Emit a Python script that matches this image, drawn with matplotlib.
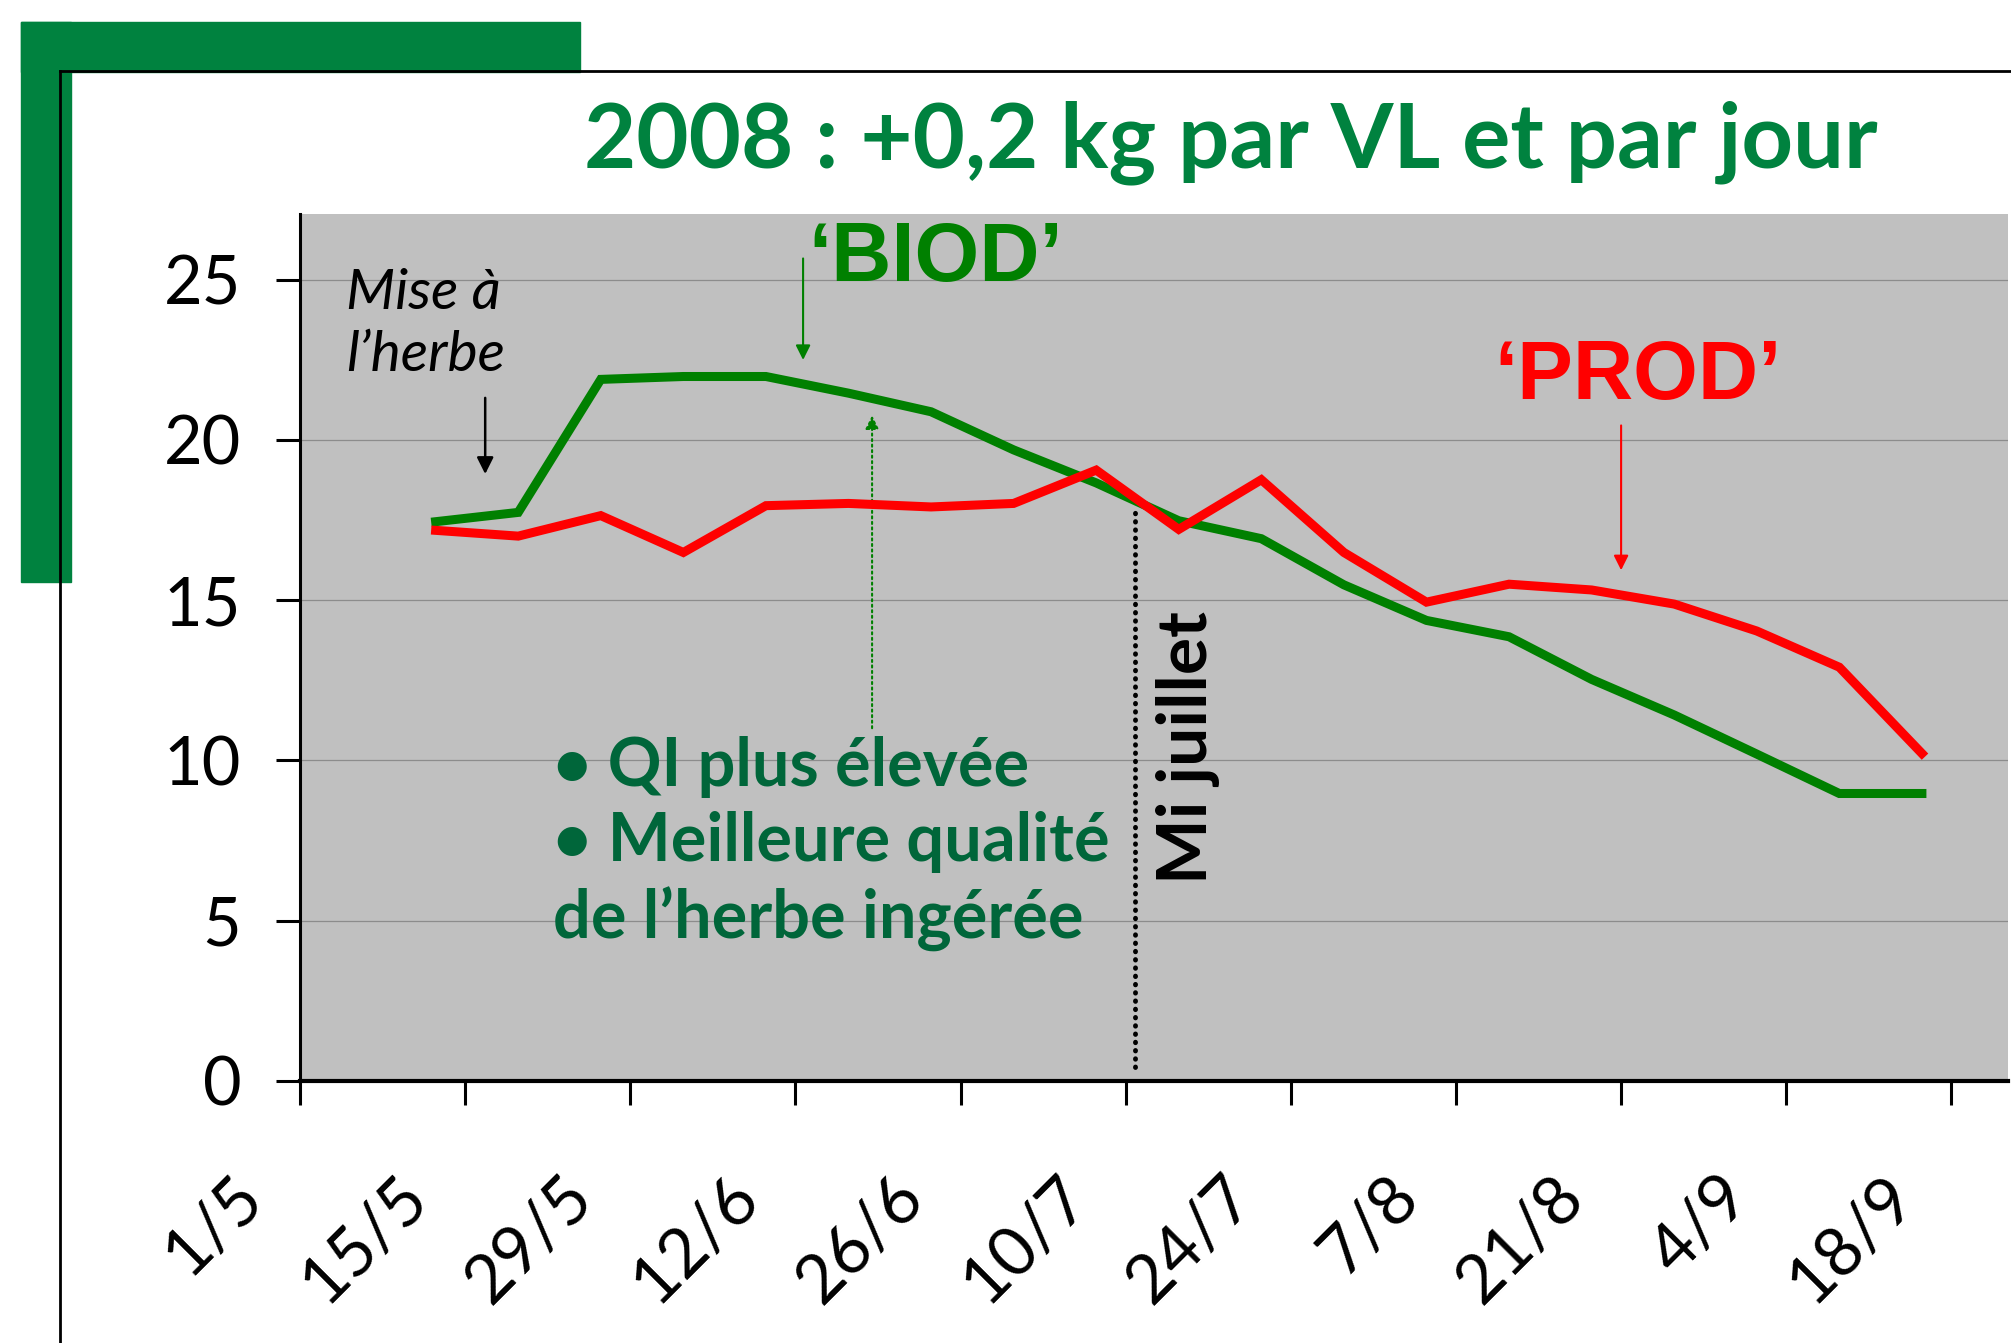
import numpy as np
import pandas as pd
import matplotlib
matplotlib.use("Agg")
import matplotlib.pyplot as plt
from matplotlib.patches import Rectangle
from matplotlib.lines import Line2D
from matplotlib.transforms import ScaledTranslation

# weekly measurements (kg per cow per day), 2008
dates = ["12/5", "19/5", "26/5", "2/6", "9/6", "16/6", "23/6", "30/6", "7/7", "14/7",
         "21/7", "28/7", "4/8", "11/8", "18/8", "25/8", "1/9", "8/9", "15/9"]
biod = [17.45, 17.74, 21.89, 21.98, 21.98, 21.46, 20.88, 19.69, 18.66, 17.48,
        16.92, 15.48, 14.37, 13.86, 12.53, 11.42, 10.20, 8.97, 8.97]
prod = [17.18, 17.00, 17.64, 16.49, 17.95, 18.02, 17.91, 18.02, 19.06, 17.21,
        18.76, 16.49, 14.94, 15.50, 15.32, 14.88, 14.04, 12.91, 10.22]
tick_dates = ["1/5", "15/5", "29/5", "12/6", "26/6", "10/7", "24/7", "7/8", "21/8", "4/9", "18/9"]
y_ticks = [0, 5, 10, 15, 20, 25]

start = pd.Timestamp("2008-05-01")
def to_day(lst):
    d = pd.to_datetime([s + "/2008" for s in lst], format="%d/%m/%Y")
    return np.array((d - start).days, dtype=float)

x = to_day(dates) + 0.5
xt = to_day(tick_dates)

GREEN_DECO = "#00823f"
TXT_GREEN = "#00663a"

fig = plt.figure(figsize=(20.11, 13.43), dpi=100)
W, H = 2011, 1343

def fx(px):
    return px / W
def fy(py):
    return 1 - py / H

# decorative frame
fig.patches.append(Rectangle((fx(21), fy(72)), fx(580) - fx(21), fy(22) - fy(72),
                             transform=fig.transFigure, color=GREEN_DECO, zorder=0))
fig.patches.append(Rectangle((fx(21), fy(582)), fx(71) - fx(21), fy(22) - fy(582),
                             transform=fig.transFigure, color=GREEN_DECO, zorder=0))
fig.lines.append(Line2D([fx(60), 1], [fy(71), fy(71)], transform=fig.transFigure, color="black", lw=2))
fig.lines.append(Line2D([fx(60), fx(60)], [fy(71), 0], transform=fig.transFigure, color="black", lw=2))

fig.text(0.612, fy(167), "2008 : +0,2 kg par VL et par jour", color=GREEN_DECO,
         fontsize=65, fontweight="bold", family="Lato", ha="center", va="baseline")

ax = fig.add_axes([fx(300), fy(1081), fx(2008) - fx(300), fy(214) - fy(1081)])
ax.set_facecolor("#c0c0c0")
ax.plot(x, biod, color="#008000", lw=6.5, solid_joinstyle="miter", zorder=3)
ax.plot(x, prod, color="#ff0000", lw=6.5, solid_joinstyle="miter", zorder=4)

ax.set_xlim(0, 144.8)
ax.set_ylim(0, 27.05)
ax.set_yticks(y_ticks)
ax.yaxis.grid(True, color="#8c8c8c", lw=0.9)
ax.set_axisbelow(True)
for s in ["top", "right"]:
    ax.spines[s].set_visible(False)
ax.spines["left"].set_linewidth(2.2)
ax.spines["bottom"].set_linewidth(3)
ax.tick_params(axis="y", length=17.3, width=2.2, pad=25, labelsize=48)
ax.tick_params(axis="x", length=17.3, width=2.2, pad=0, labelsize=49)
for lbl in ax.get_yticklabels():
    lbl.set_family("Lato")

ax.set_xticks(xt)
ax.set_xticklabels(tick_dates, rotation=45, ha="right", va="baseline",
                   rotation_mode="anchor", family="Lato", fontsize=49)
off = ScaledTranslation(-34 / 100, -95 / 100, fig.dpi_scale_trans)
for lbl in ax.get_xticklabels():
    lbl.set_transform(lbl.get_transform() + off)

# annotations
ax.text(3.9, 23.6, "Mise à\nl’herbe", style="italic", family="Lato", fontsize=41,
        ha="left", va="center", linespacing=1.27)
ax.annotate("", xy=(15.7, 18.85), xytext=(15.7, 21.4),
            arrowprops=dict(arrowstyle="-|>", color="black", lw=1.8, mutation_scale=25))

ax.text(53.9, 25.65, "‘BIOD’", color="#008000", family="Liberation Sans", fontweight="bold",
        fontsize=60, ha="center", va="center")
ax.annotate("", xy=(42.65, 22.41), xytext=(42.65, 25.75),
            arrowprops=dict(arrowstyle="-|>", color="#008000", lw=1.5, mutation_scale=22))

ax.text(113.4, 21.97, "‘PROD’", color="#ff0000", family="Liberation Sans", fontweight="bold",
        fontsize=60, ha="center", va="center")
ax.annotate("", xy=(112.0, 15.85), xytext=(112.0, 20.54),
            arrowprops=dict(arrowstyle="-|>", color="#ff0000", lw=1.5, mutation_scale=22))

ax.annotate("", xy=(48.5, 20.85), xytext=(48.5, 10.92),
            arrowprops=dict(arrowstyle="-|>", color="#008000", lw=1.5, ls=":", mutation_scale=20))

ax.text(21.45, 7.4, "• QI plus élevée\n• Meilleure qualité\nde l’herbe ingérée", color=TXT_GREEN,
        family="Lato", fontweight="bold", fontsize=48, ha="left", va="center", linespacing=1.26)

ax.plot([70.8, 70.8], [0.44, 17.9], color="black", lw=3.5, ls=(0, (0.1, 1.6)),
        dash_capstyle="round", zorder=5)
ax.text(75.3, 10.39, "Mi juillet", rotation=90, family="Lato", fontweight="bold",
        fontsize=50, ha="center", va="center")

fig.savefig("out.png", dpi=100)
